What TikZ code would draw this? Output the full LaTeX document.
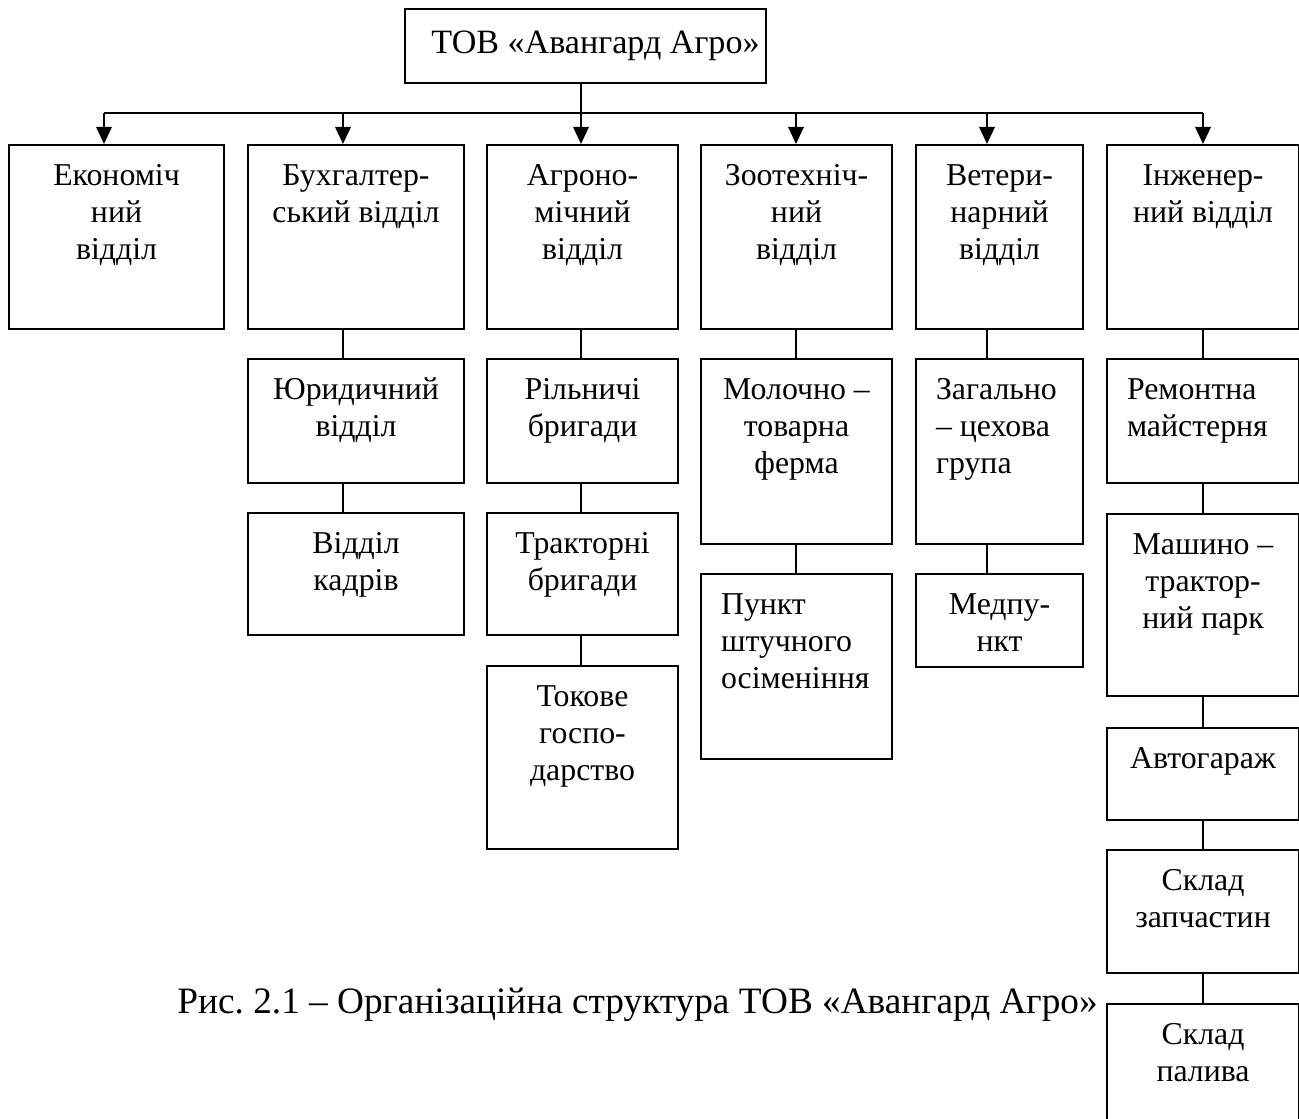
\documentclass[tikz,border=0pt]{standalone}
\usepackage{fontspec}
\setmainfont{Liberation Serif}
\usetikzlibrary{arrows.meta}
\frenchspacing

\newlength{\pxu}
\setlength{\pxu}{0.44pt}
\newcommand{\boxtext}[3]{\parbox[t][#2\pxu][t]{#1\pxu}{\centering\rule{0pt}{40\pxu}#3}}
\newcommand{\boxleft}[3]{\parbox[t][#2\pxu][t]{#1\pxu}{\raggedright\leftskip=20\pxu\rule{0pt}{40\pxu}#3}}

\begin{document}
\begin{tikzpicture}[x=0.44pt, y=-0.44pt,
	unit/.style={draw, line width=0.9pt, anchor=north west, inner sep=0pt,
		font=\fontsize{14}{16.4}\selectfont},
	bus/.style={line width=0.9pt},
	link/.style={line width=0.6pt},
	tip/.style={-{Triangle[length=7.5pt,width=6.8pt]}}]
	\useasboundingbox (0,0) rectangle (1299,1119);
	\node[unit, font=\fontsize{15}{17}\selectfont] (top) at (404,8)
		{\parbox[t][74\pxu][t]{361\pxu}{\centering\hspace*{20\pxu}\rule{0pt}{44\pxu}ТОВ «Авангард Агро»}};
	% first level
	\node[unit] (econ) at (8,144)    {\boxtext{215}{184}{Економіч\\ний\\відділ}};
	\node[unit] (buh)  at (247,144)  {\boxtext{216}{184}{Бухгалтер-\\ський відділ}};
	\node[unit] (agro) at (486,144)  {\boxtext{191}{184}{Агроно-\\мічний\\відділ}};
	\node[unit] (zoo)  at (700,144)  {\boxtext{191}{184}{Зоотехніч-\\ний\\відділ}};
	\node[unit] (vet)  at (915,144)  {\boxtext{167}{184}{Ветери-\\нарний\\відділ}};
	\node[unit] (inzh) at (1106,144) {\boxtext{192}{184}{Інженер-\\ний відділ}};
	% lower levels
	\node[unit] (yur)    at (247,358)  {\boxtext{216}{124}{Юридичний\\відділ}};
	\node[unit] (kadr)   at (247,512)  {\boxtext{216}{122}{Відділ\\кадрів}};
	\node[unit] (riln)   at (486,358)  {\boxtext{191}{124}{Рільничі\\бригади}};
	\node[unit] (trakt)  at (486,512)  {\boxtext{191}{122}{Тракторні\\бригади}};
	\node[unit] (tok)    at (486,665)  {\boxtext{191}{183}{Токове\\госпо-\\дарство}};
	\node[unit] (moloch) at (700,358)  {\boxtext{191}{185}{Молочно –\\товарна\\ферма}};
	\node[unit] (punkt)  at (700,573)  {\boxleft{191}{185}{Пункт\\штучного\\осіменіння}};
	\node[unit] (zag)    at (915,358)  {\boxleft{167}{185}{Загально\\– цехова\\група}};
	\node[unit] (med)    at (915,573)  {\boxtext{167}{93}{Медпу-\\нкт}};
	\node[unit] (remont) at (1106,358) {\boxleft{192}{124}{Ремонтна\\майстерня}};
	\node[unit] (mash)   at (1106,513) {\boxtext{192}{182}{Машино –\\трактор-\\ний парк}};
	\node[unit] (avto)   at (1106,727) {\boxtext{192}{92}{Автогараж}};
	\node[unit] (zapch)  at (1106,849) {\boxtext{192}{123}{Склад\\запчастин}};
	\node[unit] (paliv)  at (1106,1003) {\boxtext{192}{160}{Склад\\палива}};
	\node[anchor=base west, inner sep=0pt, font=\fontsize{16.4}{18}\selectfont] (cap) at (177,1013)
		{Рис. 2.1 – Організаційна структура ТОВ «Авангард Агро»};
	% connectors
	\coordinate (c1) at (104,113);
	\coordinate (c2) at (343,113);
	\coordinate (c3) at (581,113);
	\coordinate (c4) at (796,113);
	\coordinate (c5) at (987,113);
	\coordinate (c6) at (1203,113);
	\draw[bus] (c1) -- (c6);
	\draw[bus] (top.south -| c3) -- (c3);
	\foreach \c/\n in {c1/econ, c2/buh, c3/agro, c4/zoo, c5/vet, c6/inzh}
	\draw[bus, tip] (\c) -- (\c |- \n.north);
	\foreach \c/\a/\b in {
		c2/buh/yur, c2/yur/kadr,
		c3/agro/riln, c3/riln/trakt, c3/trakt/tok,
		c4/zoo/moloch, c4/moloch/punkt,
		c5/vet/zag, c5/zag/med,
		c6/inzh/remont, c6/remont/mash, c6/mash/avto, c6/avto/zapch, c6/zapch/paliv}
	\draw[link] (\c |- \a.south) -- (\c |- \b.north);
\end{tikzpicture}
\end{document}
